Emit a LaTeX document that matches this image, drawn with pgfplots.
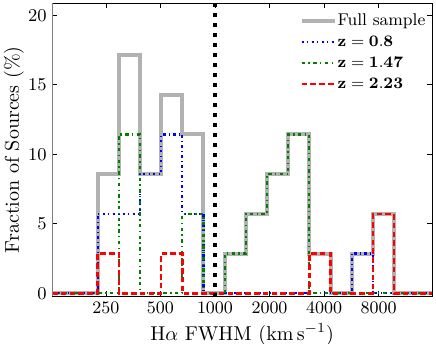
\documentclass[border=0pt]{standalone}
\usepackage{pgfplots}
\pgfplotsset{compat=1.18}
\definecolor{fullgray}{rgb}{0.70,0.70,0.70}
\definecolor{mblue}{rgb}{0,0,1}
\definecolor{mgreen}{rgb}{0,0.5,0}
\definecolor{mred}{rgb}{1,0,0}
\begin{document}
\begin{tikzpicture}
\begin{axis}[
  scale only axis, width=190.15pt, height=146.75pt,
  xmode=log, xmin=125.89, xmax=15849, ymin=-0.23, ymax=20.88,
  xtick={250,500,1000,2000,4000,8000},
  xticklabels={250,500,1000,2000,4000,8000},
  minor xtick={}, ytick={0,5,10,15,20},
  tick align=inside, major tick length=2.5pt,
  tick style={black, line width=0.4pt},
  ticklabel style={font=\fontsize{8.75}{10}\selectfont},
  xticklabel style={anchor=base, yshift=-8.4pt},
  yticklabel style={xshift=0.9pt},
  xlabel={H$\alpha$ FWHM (km\,s$^{-1}$)},
  ylabel={Fraction of Sources (\%)},
  label style={font=\fontsize{10}{12}\selectfont},
  xlabel style={at={(axis description cs:0.5,0)}, anchor=base, yshift=-21.8pt},
  ylabel style={at={(axis description cs:-0.1,0.5)}, anchor=center},
  axis line style={black, line width=0.5pt},
  legend style={draw=none, fill=none, inner sep=0pt,
    at={(rel axis cs:0.65,0.973)}, anchor=north west,
    font=\fontsize{8.5}{10}\selectfont, row sep=1.0pt,
    nodes={inner sep=0.5pt, text height=6.5pt, text depth=2pt}},
  legend cell align=left,
  legend image code/.code={\draw[#1] (0pt,0pt) -- (14.5pt,0pt); \path (0pt,0pt) -- (16.5pt,0pt);},
  no markers,
]
\addplot[fullgray, line width=2pt, const plot mark left, line join=miter] coordinates {
 (125.89,0) (224.9,8.571) (294.4,17.143) (385.3,8.571) (504.4,14.286) (660.1,11.429)
 (864.0,0) (1130.9,2.857) (1480.3,5.714) (1937.6,8.571) (2536,11.429) (3319,2.857)
 (4344,0) (5686,2.857) (7442,5.714) (9741,0) (15849,0)};
\addlegendentry{Full sample}
\addplot[mblue, line width=1.1pt, const plot mark left, dash pattern=on 1.3pt off 1.6pt on 0.5pt off 1.6pt] coordinates {
 (125.89,0) (224.9,5.714) (294.4,5.714) (385.3,8.571) (504.4,11.429) (660.1,5.714)
 (864.0,0) (5686,2.857) (7442,0) (15849,0)};
\addlegendentry{$\mathbf{z = 0.8}$}
\addplot[mgreen, line width=1.1pt, const plot mark left, dash pattern=on 1.7pt off 1.7pt on 0.7pt off 1.7pt] coordinates {
 (125.89,0) (294.4,11.429) (385.3,0) (660.1,5.714) (864.0,0) (1130.9,2.857)
 (1480.3,5.714) (1937.6,8.571) (2536,11.429) (3319,0) (15849,0)};
\addlegendentry{$\mathbf{z = 1.47}$}
\addplot[mred, line width=1.3pt, const plot mark left, dash pattern=on 2.8pt off 1.6pt] coordinates {
 (125.89,0) (224.9,2.857) (294.4,0) (504.4,2.857) (660.1,0) (3319,2.857)
 (4344,0) (7442,5.714) (9741,0) (15849,0)};
\addlegendentry{$\mathbf{z = 2.23}$}
\addplot[black, line width=2.3pt, dash pattern=on 2.1pt off 2.9pt, forget plot] coordinates {(1000,20.88) (1000,-0.23)};
\draw[gray, line width=1.2pt] (rel axis cs:0,0) -- (rel axis cs:0,1);
\end{axis}
\pgfresetboundingbox
\path[use as bounding box] (-26pt,-23.75pt) rectangle (192pt,148.25pt);
\end{tikzpicture}
\end{document}
